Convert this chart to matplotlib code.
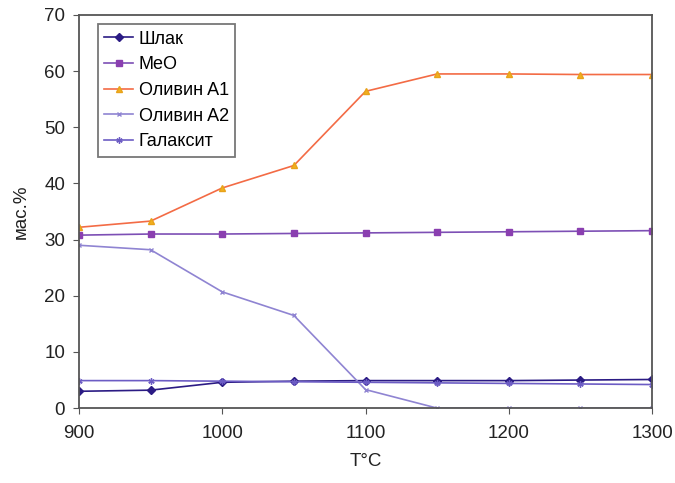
import matplotlib.pyplot as plt

plt.rcParams['font.family'] = ['Liberation Sans', 'DejaVu Sans']

temps = [900, 950, 1000, 1050, 1100, 1150, 1200, 1250, 1300]
slag = [3.0, 3.2, 4.6, 4.8, 4.9, 4.9, 4.9, 5.0, 5.1]
meo = [30.8, 31.0, 31.0, 31.1, 31.2, 31.3, 31.4, 31.5, 31.6]
olivine_a1 = [32.2, 33.3, 39.2, 43.2, 56.4, 59.5, 59.5, 59.4, 59.4]
olivine_a2 = [29.0, 28.2, 20.7, 16.5, 3.3, 0.0, 0.0, 0.0, 0.0]
galaxite = [4.9, 4.9, 4.8, 4.7, 4.6, 4.5, 4.4, 4.3, 4.2]

fig = plt.figure(figsize=(6.75, 4.83), dpi=100)
ax = fig.add_axes([0.117, 0.155, 0.849, 0.814])

ax.plot(temps, slag, color='#2b1b84', marker='D', markersize=4, lw=1.2,
        label='Шлак')
ax.plot(temps, meo, color='#7d4fb5', marker='s', markersize=4.5, lw=1.2,
        markerfacecolor='#8a3fb0', markeredgecolor='#8a3fb0', label='MeO')
ax.plot(temps, olivine_a1, color='#f36b45', marker='^', markersize=5, lw=1.2,
        markerfacecolor='#f2b01e', markeredgecolor='#e8a21a', label='Оливин A1')
ax.plot(temps, olivine_a2, color='#8f84d2', marker='x', markersize=3, lw=1.2,
        label='Оливин A2')
ax.plot(temps, galaxite, color='#6c5cc4', marker=(6, 2, 0), markersize=4.5, lw=1.2,
        label='Галаксит')

ax.set_xlim(900, 1300)
ax.set_ylim(0, 70)
ax.set_xticks([900, 1000, 1100, 1200, 1300])
ax.set_yticks(range(0, 71, 10))
ax.tick_params(labelsize=13.5, direction='out', length=4, color='#555555',
               colors='#222222')
ax.tick_params(axis='x', pad=8)
ax.tick_params(axis='y', pad=6)
for s in ax.spines.values():
    s.set_color('#555555')
    s.set_linewidth(1.3)

ax.set_xlabel('T°C', fontsize=13.5, labelpad=8, color='#222222')
ax.set_ylabel('мас.%', fontsize=13.5, labelpad=10, color='#222222')

leg = ax.legend(loc='upper left', bbox_to_anchor=(0.027, 0.985), fontsize=13,
                frameon=True, fancybox=False, edgecolor='#555555',
                handlelength=1.6, handletextpad=0.3, labelspacing=0.48,
                borderpad=0.35, borderaxespad=0.2)
leg.get_frame().set_linewidth(1.3)

fig.savefig('out.png', dpi=100)
